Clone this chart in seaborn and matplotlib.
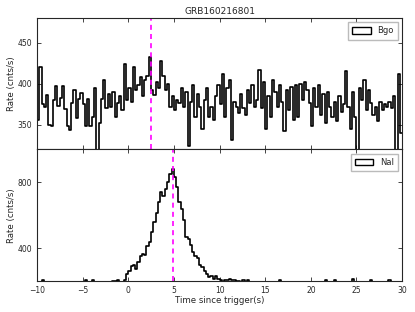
import numpy as np
import pandas as pd
import matplotlib
matplotlib.use('Agg')
import matplotlib.pyplot as plt
from matplotlib.patches import Patch
import seaborn as sns

title = 'GRB160216801'
t_start, t_stop, bin_width = -10, 30, 0.25

# BGO rate (cnts/s), 4 bins per second from -10 s
bgo_rate = [
    356, 421, 375, 372,  386, 350, 349, 380,  397, 373, 383, 397,  369, 348, 344, 377,
    392, 358, 381, 389,  375, 348, 382, 348,  360, 395, 318, 352,  382, 405, 370, 388,
    372, 390, 360, 376,  385, 368, 424, 380,  395, 378, 420, 392,  398, 408, 385, 405,
    410, 433, 392, 386,  402, 395, 428, 410,  392, 400, 372, 385,  368, 380, 376, 395,
    372, 390, 324, 378,  398, 360, 388, 372,  345, 380, 395, 360,  372, 356, 385, 398,
    375, 412, 360, 395,  405, 332, 378, 372,  365, 388, 370, 362,  392, 376, 398, 372,
    380, 417, 370, 402,  345, 385, 360, 405,  390, 372, 398, 378,  342, 392, 368, 396,
    356, 398, 360, 400,  380, 402, 392, 376,  348, 395, 372, 398,  362, 388, 352, 390,
    372, 360, 378, 355,  385, 366, 375, 415,  372, 345, 390, 360,  318, 395, 380, 405,
    368, 392, 376, 362,  372, 355, 378, 368,  375, 372, 378, 370,  385, 318, 412, 340,
]

# NaI rate (cnts/s), 4 bins per second from -10 s
nai_rate = [
    190, 185, 204, 188,  192, 186, 190, 195,  184, 191, 187, 193,  189, 186, 192, 190,
    185, 194, 188, 191,  193, 203, 190, 186,  204, 189, 192, 187,  191, 186, 193, 195,
    190, 202, 198, 203,  194, 190, 205, 240,  260, 292, 298, 272,  318, 350, 362, 356,
    410, 440, 500, 560,  615, 680, 742, 718,  760, 800, 852, 880,  835, 770, 680, 636,
    570, 470, 455, 420,  378, 350, 340, 300,  285, 262, 240, 226,  232, 215, 228, 215,
    205, 196, 209, 204,  210, 203, 206, 198,  202, 195, 204, 192,  203, 190, 196, 188,
    192, 186, 190, 194,  188, 191, 185, 190,  193, 187, 204, 189,  190, 186, 192, 188,
    187, 193, 189, 190,  186, 192, 188, 194,  190, 185, 191, 187,  193, 189, 204, 190,
    188, 192, 203, 187,  191, 186, 190, 194,  190, 188, 210, 193,  189, 192, 187, 191,
    186, 190, 203, 188,  192, 187, 191, 189,  194, 188, 203, 190,  186, 191, 188, 192,
]

bgo_peak, nai_peak = 2.45, 4.85

centers = np.arange(t_start, t_stop, bin_width) + bin_width / 2

sns.set_style('ticks', {'xtick.direction': 'in', 'ytick.direction': 'in'})
plt.rcParams['font.family'] = ['DejaVu Sans']

fig = plt.figure(figsize=(4.15, 3.12), dpi=100)
ax1 = fig.add_axes([0.089, 0.521, 0.880, 0.421])
ax2 = fig.add_axes([0.089, 0.0994, 0.880, 0.4216], sharex=ax1)

panels = [
    (ax1, bgo_rate, 'Bgo', bgo_peak, (320, 480), [350, 400, 450]),
    (ax2, nai_rate, 'NaI', nai_peak, (200, 1000), [400, 800]),
]
for ax, rate, name, peak, ylim, yticks in panels:
    df = pd.DataFrame({'time': centers, 'rate': rate})
    sns.histplot(data=df, x='time', weights='rate', binwidth=bin_width,
                 binrange=(t_start, t_stop), element='step', fill=False,
                 color='black', linewidth=1.2, ax=ax)
    ax.axvline(peak, color='#ff00ff', linestyle='--', linewidth=1.2, dashes=(3, 2.5))
    ax.set_xlim(t_start, t_stop)
    ax.set_ylim(*ylim)
    ax.set_yticks(yticks)
    ax.set_ylabel('Rate (cnts/s)', fontsize=6.2, labelpad=1)
    ax.set_xlabel('')
    ax.tick_params(top=True, right=True, labelsize=5.5, length=3, width=0.6)
    for sp in ax.spines.values():
        sp.set_linewidth(0.8)
    ax.legend(handles=[Patch(facecolor='white', edgecolor='black', label=name)],
              loc='upper right', fontsize=6, fancybox=False, edgecolor='#aaaaaa',
              handlelength=2.2, handleheight=0.8, borderpad=0.5)

ax1.tick_params(labelbottom=False)
ax1.set_title(title, fontsize=6.5, pad=3)
ax2.set_xticks(np.arange(-10, 31, 5))
ax2.set_xlabel('Time since trigger(s)', fontsize=6.2, labelpad=1)

fig.savefig('out.png', dpi=100)
